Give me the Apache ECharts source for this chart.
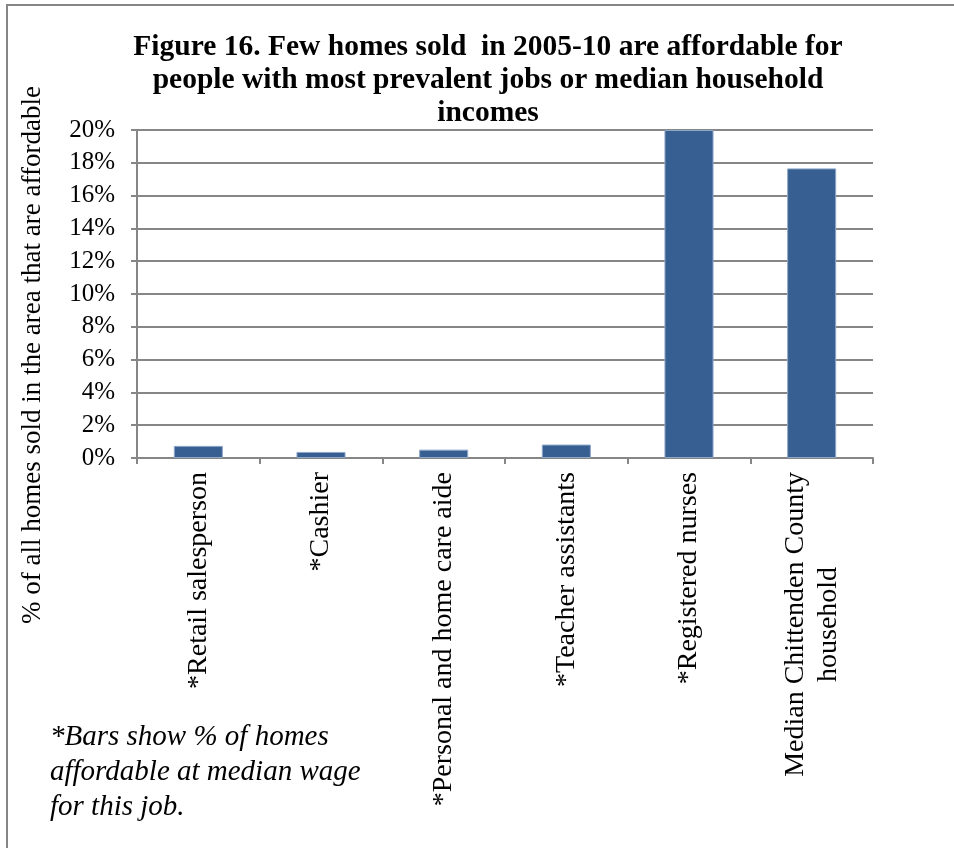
<!DOCTYPE html>
<html>
<head>
<meta charset="utf-8">
<script src="https://cdn.jsdelivr.net/npm/echarts@6/dist/echarts.min.js"></script>
<style>
  html, body { margin: 0; padding: 0; background: #fff; }
  #chart { width: 954px; height: 848px; }
</style>
</head>
<body>
<div id="chart"></div>
<script>
// Occupations / household types compared
const categories = [
  '*Retail salesperson',
  '*Cashier',
  '*Personal and home care aide',
  '*Teacher assistants',
  '*Registered nurses',
  'Median Chittenden County\nhousehold'
];
// Share of homes sold 2005-10 that are affordable (%)
const affordableShare = [0.74, 0.37, 0.51, 0.82, 20.0, 17.66];
// Value axis ticks (%)
const yTicks = [0, 2, 4, 6, 8, 10, 12, 14, 16, 18, 20];

const titleText = 'Figure 16. Few homes sold  in 2005-10 are affordable for\npeople with most prevalent jobs or median household\nincomes';
const yAxisName = '% of all homes sold in the area that are affordable';
const footnote = '*Bars show % of homes\naffordable at median wage\nfor this job.';

const serif = '"Liberation Serif", "Times New Roman", serif';
const axisGray = '#868686';
const catFontSize = 28;

const chart = echarts.init(document.getElementById('chart'), null, { renderer: 'canvas' });
chart.setOption({
  animation: false,
  backgroundColor: '#ffffff',
  title: {
    text: titleText,
    left: 483,
    top: 26,
    textAlign: 'center',
    textStyle: {
      fontFamily: serif,
      fontWeight: 'bold',
      fontSize: 29.5,
      lineHeight: 33,
      color: '#000'
    }
  },
  grid: { left: 137, right: 81, top: 130, bottom: 390, containLabel: false },
  xAxis: {
    type: 'category',
    data: categories,
    axisLine: { show: true, lineStyle: { color: axisGray, width: 2 } },
    axisTick: { show: true, alignWithLabel: false, length: 6, lineStyle: { color: axisGray, width: 2 } },
    axisLabel: {
      rotate: 90,
      margin: 14,
      interval: 0,
      // wrapped labels keep each line centred within the label block
      formatter: v => v.split('\n').map(s => '{c|' + s + '}').join('\n'),
      rich: {
        c: {
          align: 'center',
          fontFamily: serif,
          fontSize: catFontSize,
          lineHeight: 33,
          color: '#000'
        }
      },
      fontFamily: serif,
      fontSize: catFontSize,
      lineHeight: 33,
      color: '#000'
    }
  },
  yAxis: {
    type: 'value',
    min: yTicks[0],
    max: yTicks[yTicks.length - 1],
    interval: 2,
    axisLine: { show: true, lineStyle: { color: axisGray, width: 2 } },
    axisTick: { show: true, length: 6, lineStyle: { color: axisGray, width: 2 } },
    splitLine: { show: true, lineStyle: { color: axisGray, width: 2 } },
    axisLabel: {
      formatter: v => v + '%',
      margin: 22,
      fontFamily: serif,
      fontSize: 25,
      color: '#000'
    }
  },
  series: [{
    type: 'bar',
    data: affordableShare,
    barWidth: '40%',
    itemStyle: { color: '#375F92', borderColor: '#8fa8c8', borderWidth: 1 }
  }],
  graphic: [
    {
      type: 'rect',
      shape: { x: 7, y: 5, width: 1000, height: 900 },
      style: { fill: 'none', stroke: axisGray, lineWidth: 2 },
      silent: true
    },
    {
      // value axis title, rotated to read bottom-to-top
      type: 'text',
      x: 33,
      y: 355,
      rotation: Math.PI / 2,
      style: {
        text: yAxisName,
        fontFamily: serif,
        fontSize: 27,
        fill: '#000',
        align: 'center',
        verticalAlign: 'middle'
      }
    },
    {
      type: 'text',
      left: 50,
      top: 720,
      style: {
        text: footnote,
        fontFamily: serif,
        fontStyle: 'italic',
        fontSize: 29,
        lineHeight: 35,
        fill: '#000'
      }
    }
  ]
});
</script>
</body>
</html>
